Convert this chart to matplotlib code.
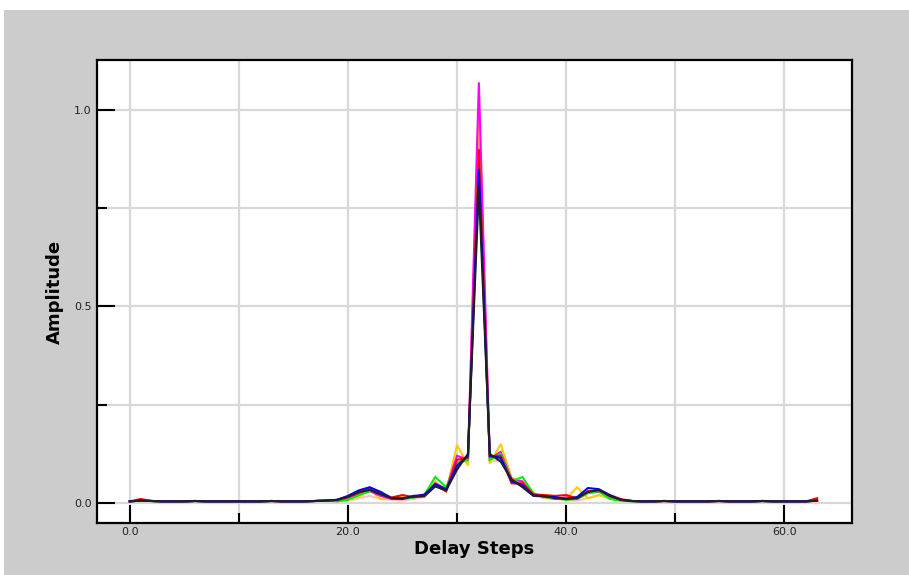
import numpy as np
import matplotlib
matplotlib.use("Agg")
import matplotlib.pyplot as plt
from matplotlib.patches import Rectangle
from matplotlib.ticker import FixedLocator, FixedFormatter

delay_steps = list(range(64))

head = [0.004, 0.006, 0.005, 0.004, 0.004, 0.004, 0.005, 0.004, 0.004, 0.004,
        0.004, 0.004, 0.004, 0.005, 0.004, 0.004, 0.004, 0.005, 0.006]
tail = [0.004, 0.004, 0.005, 0.004, 0.004, 0.004, 0.004, 0.005, 0.004, 0.004,
        0.004, 0.005, 0.004, 0.004, 0.004, 0.004, 0.006]

# center section: delay steps 19..46
center_black = [0.008, 0.016, 0.028, 0.033, 0.022, 0.012, 0.012, 0.016, 0.017, 0.042,
                0.032, 0.085, 0.125, 0.800, 0.125, 0.105, 0.060, 0.040, 0.018, 0.018,
                0.012, 0.010, 0.012, 0.028, 0.033, 0.018, 0.008, 0.005]
center_blue = [0.008, 0.018, 0.032, 0.040, 0.028, 0.012, 0.010, 0.018, 0.020, 0.048,
               0.035, 0.095, 0.120, 0.850, 0.120, 0.115, 0.055, 0.045, 0.020, 0.016,
               0.015, 0.010, 0.015, 0.038, 0.035, 0.020, 0.008, 0.005]
center_red = [0.007, 0.015, 0.026, 0.036, 0.024, 0.014, 0.020, 0.015, 0.022, 0.045,
              0.030, 0.110, 0.115, 0.900, 0.118, 0.120, 0.050, 0.050, 0.022, 0.020,
              0.018, 0.020, 0.012, 0.030, 0.032, 0.020, 0.010, 0.005]
center_green = [0.004, 0.008, 0.020, 0.030, 0.028, 0.012, 0.010, 0.014, 0.020, 0.066,
                0.040, 0.100, 0.110, 0.880, 0.110, 0.125, 0.055, 0.066, 0.024, 0.015,
                0.012, 0.008, 0.010, 0.025, 0.030, 0.010, 0.006, 0.004]
center_magenta = [0.006, 0.012, 0.022, 0.030, 0.018, 0.010, 0.012, 0.014, 0.018, 0.050,
                  0.035, 0.120, 0.110, 1.070, 0.112, 0.130, 0.060, 0.055, 0.020, 0.016,
                  0.010, 0.014, 0.010, 0.026, 0.028, 0.016, 0.008, 0.005]
center_gold = [0.006, 0.012, 0.015, 0.035, 0.010, 0.012, 0.014, 0.016, 0.015, 0.055,
               0.030, 0.148, 0.095, 1.020, 0.100, 0.150, 0.065, 0.050, 0.025, 0.014,
               0.012, 0.010, 0.040, 0.012, 0.020, 0.012, 0.006, 0.005]
center_pink = [0.005, 0.006, 0.012, 0.018, 0.010, 0.008, 0.006, 0.010, 0.015, 0.045,
               0.028, 0.105, 0.105, 0.950, 0.105, 0.110, 0.050, 0.045, 0.018, 0.012,
               0.010, 0.008, 0.006, 0.012, 0.020, 0.012, 0.006, 0.004]
center_gray = [0.007, 0.014, 0.025, 0.032, 0.024, 0.012, 0.012, 0.015, 0.018, 0.046,
               0.032, 0.100, 0.120, 0.930, 0.120, 0.112, 0.058, 0.048, 0.020, 0.016,
               0.012, 0.010, 0.012, 0.028, 0.030, 0.016, 0.008, 0.005]

series = [
    ("#ffc0c0", center_pink),
    ("#909090", center_gray),
    ("#ffcc00", center_gold),
    ("#ff00ff", center_magenta),
    ("#00ee00", center_green),
    ("#ff0000", center_red),
    ("#0000ff", center_blue),
    ("#202020", center_black),
]

x_ticks = [0, 20, 40, 60]
x_tick_labels = ["0.0", "20.0", "40.0", "60.0"]
y_ticks = [0.0, 0.5, 1.0]
y_tick_labels = ["0.0", "0.5", "1.0"]

W, H = 909, 575
fig = plt.figure(figsize=(W / 100, H / 100), dpi=100)
fig.patch.set_facecolor("#cccccc")
fig.patches.append(Rectangle((0, 1 - 10 / H), 1, 10 / H, transform=fig.transFigure,
                             facecolor="white", edgecolor="none", zorder=0))
fig.patches.append(Rectangle((0, 0), 4 / W, 1, transform=fig.transFigure,
                             facecolor="white", edgecolor="none", zorder=0))

ax = fig.add_axes([97 / W, 1 - 523 / H, (852 - 97) / W, (523 - 60) / H])
ax.set_facecolor("white")

for color, center in series:
    vals = head + center + tail
    if color == "#ff0000":
        vals = list(vals)
        vals[1] = 0.010
        vals[63] = 0.012
    ax.plot(delay_steps, vals, color=color, lw=1.5, solid_joinstyle="miter", zorder=3)

ax.set_xlim(-3.0, 66.2)
ax.set_ylim(-0.051, 1.127)

ax.xaxis.set_major_locator(FixedLocator(x_ticks))
ax.xaxis.set_major_formatter(FixedFormatter(x_tick_labels))
ax.xaxis.set_minor_locator(FixedLocator([10, 30, 50]))
ax.yaxis.set_major_locator(FixedLocator(y_ticks))
ax.yaxis.set_major_formatter(FixedFormatter(y_tick_labels))
ax.yaxis.set_minor_locator(FixedLocator([0.25, 0.75]))

ax.grid(True, which="both", color="#d8d8d8", lw=1.6, zorder=0)
ax.set_axisbelow(True)

ax.tick_params(which="major", direction="in", length=13, width=1.5, color="black",
               labelsize=8, labelcolor="#222222")
ax.tick_params(axis="x", which="major", pad=3)
ax.tick_params(axis="y", which="major", pad=4)
ax.tick_params(which="minor", direction="in", length=7, width=1.5, color="black")

for sp in ax.spines.values():
    sp.set_linewidth(1.6)
    sp.set_color("black")

ax.set_xlabel("Delay Steps", fontsize=13, fontweight="bold", labelpad=2)
ax.set_ylabel("Amplitude", fontsize=13, fontweight="bold", labelpad=7)

fig.savefig("out.png", dpi=100, facecolor=fig.get_facecolor())
